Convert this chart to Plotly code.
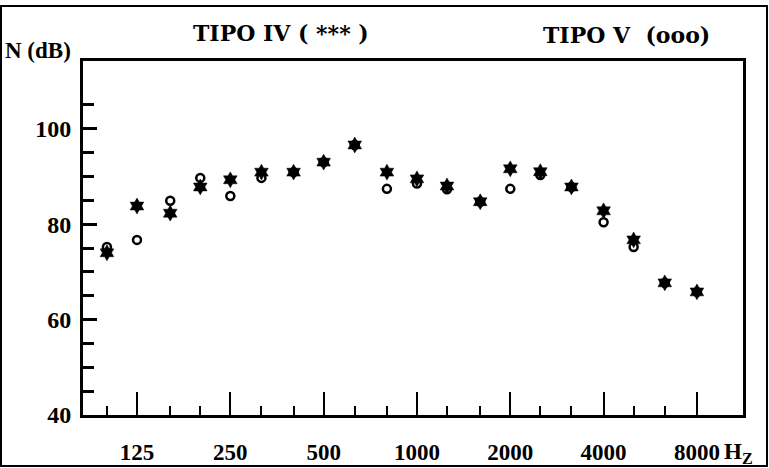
import plotly.graph_objects as go
import math

# Third-octave band centre frequencies (Hz)
freqs = [100, 125, 160, 200, 250, 315, 400, 500, 630, 800, 1000, 1250,
         1600, 2000, 2500, 3150, 4000, 5000, 6300, 8000]
# TIPO IV (stars) levels, dB
tipo_iv = [74.0, 83.8, 82.3, 87.8, 89.3, 90.9, 90.9, 93.0, 96.6, 90.9, 89.5, 88.0,
           84.7, 91.6, 91.0, 87.8, 82.8, 76.7, 67.7, 65.8]
# TIPO V (circles) levels, dB
tipo_v = [75.2, 76.7, 84.9, 89.7, 85.9, 89.7, 90.9, 93.0, 96.6, 87.4, 88.5, 87.3,
          84.7, 87.4, 90.3, 87.8, 80.4, 75.2, 67.7, 65.8]

x_major = [125, 250, 500, 1000, 2000, 4000, 8000]
x_major_text = ["125", "250", "500", "1000", "2000", "4000", "8000"]
x_minor = [f for f in freqs if f not in x_major]
y_major = [40, 60, 80, 100]
y_minor = [45, 50, 55, 65, 70, 75, 85, 90, 95, 105]

NUMFONT = "Liberation Serif"
TXTFONT = "DejaVu Serif"

fig = go.Figure()
fig.add_trace(go.Scatter(
    x=freqs, y=tipo_iv, mode="markers", name="TIPO IV",
    marker=dict(symbol="hexagram", size=12, color="black",
                line=dict(color="black", width=0.5)),
))
fig.add_trace(go.Scatter(
    x=freqs, y=tipo_v, mode="markers", name="TIPO V",
    marker=dict(symbol="circle-open", size=8, color="black",
                line=dict(color="black", width=2.5)),
))

fig.update_layout(
    width=769, height=468,
    margin=dict(l=83, r=26, t=61, b=53, autoexpand=False),
    paper_bgcolor="white", plot_bgcolor="white",
    showlegend=False,
    font=dict(family=NUMFONT, color="black"),
)

fig.update_xaxes(
    type="log", automargin=False,
    range=[math.log10(83.7), math.log10(11266)],
    showgrid=False, zeroline=False,
    showline=True, linecolor="black", linewidth=2.5, mirror=True,
    tickmode="array", tickvals=x_major, ticktext=x_major_text,
    ticks="inside", ticklen=23, tickwidth=2, tickcolor="black",
    tickfont=dict(family=NUMFONT, size=23, color="black", weight="bold"),
    ticklabelstandoff=15,
    minor=dict(tickmode="array", tickvals=x_minor, ticks="inside",
               ticklen=9, tickwidth=2, tickcolor="black", showgrid=False),
)
fig.update_yaxes(
    range=[40, 114.2], automargin=False,
    showgrid=False, zeroline=False,
    showline=True, linecolor="black", linewidth=3, mirror=True,
    tickmode="array", tickvals=y_major, ticktext=[str(v) for v in y_major],
    ticks="inside", ticklen=14, tickwidth=2.5, tickcolor="black",
    tickfont=dict(family=NUMFONT, size=24, color="black", weight="bold"),
    ticklabelstandoff=4,
    minor=dict(tickmode="array", tickvals=y_minor, ticks="inside",
               ticklen=11, tickwidth=2.5, tickcolor="black", showgrid=False),
)

# outer frame
fig.add_shape(type="rect", xref="paper", yref="paper",
              x0=(1 - 83) / 660, x1=(767 - 83) / 660,
              y0=(415 - 466) / 354, y1=(415 - 6) / 354,
              line=dict(color="black", width=2), layer="below")

ann_font = dict(family=TXTFONT, size=22, color="black", weight="bold")
fig.add_annotation(text="N (dB)", xref="paper", yref="paper",
                   x=(3 - 83) / 660, y=(415 - 50) / 354,
                   xanchor="left", yanchor="middle", showarrow=False,
                   font=dict(family=NUMFONT, size=23, color="black", weight="bold"))
fig.add_annotation(text="TIPO IV ( *** )", xref="paper", yref="paper",
                   x=(281 - 83) / 660, y=(415 - 33) / 354,
                   xanchor="center", yanchor="middle", showarrow=False, font=ann_font)
fig.add_annotation(text="TIPO V  (ooo)", xref="paper", yref="paper",
                   x=(626 - 83) / 660, y=(415 - 35) / 354,
                   xanchor="center", yanchor="middle", showarrow=False, font=ann_font)
fig.add_annotation(text="H<sub>Z</sub>", xref="paper", yref="paper",
                   x=(722 - 83) / 660, y=(415 - 453) / 354,
                   xanchor="left", yanchor="middle", showarrow=False,
                   font=dict(family=NUMFONT, size=23, color="black", weight="bold"))

fig.write_html("out.html",
               config={"displayModeBar": False},
               post_script="document.body.style.margin='0';")
